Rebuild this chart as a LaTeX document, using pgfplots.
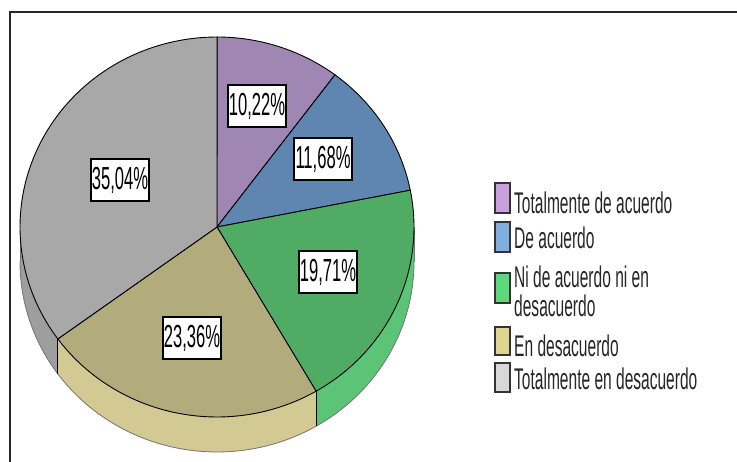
\documentclass[border=0pt]{standalone}
\usepackage{pgfplots}
\pgfplotsset{compat=1.18}
\usepackage{fontspec}
\setmainfont{Liberation Sans}
\newfontfamily\narrow[FakeStretch=0.52]{Liberation Sans}

\definecolor{purpleTop}{RGB}{160,135,179}
\definecolor{blueTop}{RGB}{94,134,176}
\definecolor{greenTop}{RGB}{80,172,100}
\definecolor{khakiTop}{RGB}{178,172,125}
\definecolor{grayTop}{RGB}{168,168,168}
\definecolor{greenSide}{RGB}{92,196,118}
\definecolor{khakiSide}{RGB}{210,202,146}
\definecolor{graySide}{RGB}{158,158,158}
\definecolor{legPurple}{RGB}{200,160,220}
\definecolor{legBlue}{RGB}{127,174,224}
\definecolor{legGreen}{RGB}{93,217,124}
\definecolor{legKhaki}{RGB}{221,213,144}
\definecolor{legGray}{RGB}{216,216,216}

% percentages of the five categories
\def\vA{10.22}
\def\vB{11.68}
\def\vC{19.71}
\def\vD{23.36}
\def\vE{35.04}

\def\cx{217}\def\cy{235}\def\rx{197}\def\ry{190}\def\dd{35}
\pgfmathsetmacro\aA{90}
\pgfmathsetmacro\aB{\aA-3.6*\vA}
\pgfmathsetmacro\aC{\aB-3.6*\vB}
\pgfmathsetmacro\aD{\aC-3.6*\vC}
\pgfmathsetmacro\aE{\aD-3.6*\vD}
\pgfmathsetmacro\aF{\aE-3.6*\vE}
\pgfmathsetmacro\pDx{\cx+\rx*cos(\aD)}
\pgfmathsetmacro\pDy{\cy+\ry*sin(\aD)}
\pgfmathsetmacro\pDb{\pDy-\dd}
\pgfmathsetmacro\pEx{\cx+\rx*cos(\aE)}
\pgfmathsetmacro\pEy{\cy+\ry*sin(\aE)}
\pgfmathsetmacro\pEb{\pEy-\dd}
\pgfmathsetmacro\rEx{\cx+\rx}
\pgfmathsetmacro\rEb{\cy-\dd}
\pgfmathsetmacro\lEx{\cx-\rx}

\tikzset{lab/.style={draw=black, line width=1.6bp, fill=white, inner sep=0pt,
  minimum width=58bp, minimum height=42bp, font=\narrow\fontsize{32}{32}\selectfont}}
\tikzset{leg/.style={anchor=west, inner sep=0pt, align=left,
  font=\narrow\fontsize{30}{29}\selectfont, text=black!85}}

\begin{document}
\begin{tikzpicture}
\begin{axis}[at={(0,0)}, anchor=south west, scale only axis,
  width=737bp, height=462bp, xmin=0, xmax=737, ymin=0, ymax=462,
  hide axis, clip=false]

% ---- sides (1 axis unit = 1bp) ----
\addplot[fill=greenSide, draw=none, forget plot, domain=\aD:0, samples=40]
  ({\cx+\rx*cos(x)},{\cy+\ry*sin(x)}) -- (\rEx,\rEb)
  arc[start angle=0, end angle=\aD, x radius=\rx bp, y radius=\ry bp] -- cycle;
\addplot[fill=khakiSide, draw=none, forget plot, domain=\aE:\aD, samples=50]
  ({\cx+\rx*cos(x)},{\cy+\ry*sin(x)}) -- (\pDx,\pDb)
  arc[start angle=\aD, end angle=\aE, x radius=\rx bp, y radius=\ry bp] -- cycle;
\addplot[fill=graySide, draw=none, forget plot, domain=-180:\aE, samples=30]
  ({\cx+\rx*cos(x)},{\cy+\ry*sin(x)}) -- (\pEx,\pEb)
  arc[start angle=\aE, end angle=-180, x radius=\rx bp, y radius=\ry bp] -- cycle;

\addplot[draw=black!55, line width=0.8bp, forget plot, domain=-180:0, samples=120] ({\cx+\rx*cos(x)},{\cy-\dd+\ry*sin(x)});
\addplot[black!55, line width=0.8bp, forget plot] coordinates {(\rEx,\cy) (\rEx,\rEb)};
\addplot[black!55, line width=0.8bp, forget plot] coordinates {(\lEx,\cy) (\lEx,\rEb)};
\addplot[black, line width=1.2bp, forget plot] coordinates {(\pDx,\pDy) (\pDx,\pDb)};
\addplot[black, line width=1.2bp, forget plot] coordinates {(\pEx,\pEy) (\pEx,\pEb)};

% ---- top faces ----
\addplot[fill=purpleTop, draw=black, line width=0.9bp, forget plot, domain=\aB:\aA, samples=30] ({\cx+\rx*cos(x)},{\cy+\ry*sin(x)}) -- (\cx,\cy) -- cycle;
\addplot[fill=blueTop, draw=black, line width=0.9bp, forget plot, domain=\aC:\aB, samples=30] ({\cx+\rx*cos(x)},{\cy+\ry*sin(x)}) -- (\cx,\cy) -- cycle;
\addplot[fill=greenTop, draw=black, line width=0.9bp, forget plot, domain=\aD:\aC, samples=50] ({\cx+\rx*cos(x)},{\cy+\ry*sin(x)}) -- (\cx,\cy) -- cycle;
\addplot[fill=khakiTop, draw=black, line width=0.9bp, forget plot, domain=\aE:\aD, samples=50] ({\cx+\rx*cos(x)},{\cy+\ry*sin(x)}) -- (\cx,\cy) -- cycle;
\addplot[fill=grayTop, draw=black, line width=0.9bp, forget plot, domain=\aF:\aE, samples=80] ({\cx+\rx*cos(x)},{\cy+\ry*sin(x)}) -- (\cx,\cy) -- cycle;

% ---- value labels ----
\node[lab] at (axis cs:257,356) {10,22\%};
\node[lab] at (axis cs:323,303) {11,68\%};
\node[lab] at (axis cs:120,282) {35,04\%};
\node[lab] at (axis cs:328,190) {19,71\%};
\node[lab] at (axis cs:192,124) {23,36\%};

% ---- legend ----
\addplot[fill=legPurple, draw=black!80, line width=1.2bp, forget plot] coordinates {(495,279) (510,279) (510,249) (495,249)} -- cycle;
\addplot[fill=legBlue, draw=black!80, line width=1.2bp, forget plot] coordinates {(495,240) (510,240) (510,210) (495,210)} -- cycle;
\addplot[fill=legGreen, draw=black!80, line width=1.2bp, forget plot] coordinates {(495,189) (510,189) (510,159) (495,159)} -- cycle;
\addplot[fill=legKhaki, draw=black!80, line width=1.2bp, forget plot] coordinates {(495,135) (510,135) (510,107) (495,107)} -- cycle;
\addplot[fill=legGray, draw=black!80, line width=1.2bp, forget plot] coordinates {(495,99) (510,99) (510,70) (495,70)} -- cycle;
\node[leg] at (axis cs:514,259) {Totalmente de acuerdo};
\node[leg] at (axis cs:514,224) {De acuerdo};
\node[leg] at (axis cs:514,171) {Ni de acuerdo ni en\\desacuerdo};
\node[leg] at (axis cs:514,116) {En desacuerdo};
\node[leg] at (axis cs:514,83) {Totalmente en desacuerdo};

% ---- frame ----
\draw[black!85, line width=1.6bp] (axis cs:737,450) -- (axis cs:10,450) -- (axis cs:10,0);
\end{axis}
\pgfresetboundingbox
\useasboundingbox (0,0) rectangle (737bp,462bp);
\end{tikzpicture}
\end{document}
